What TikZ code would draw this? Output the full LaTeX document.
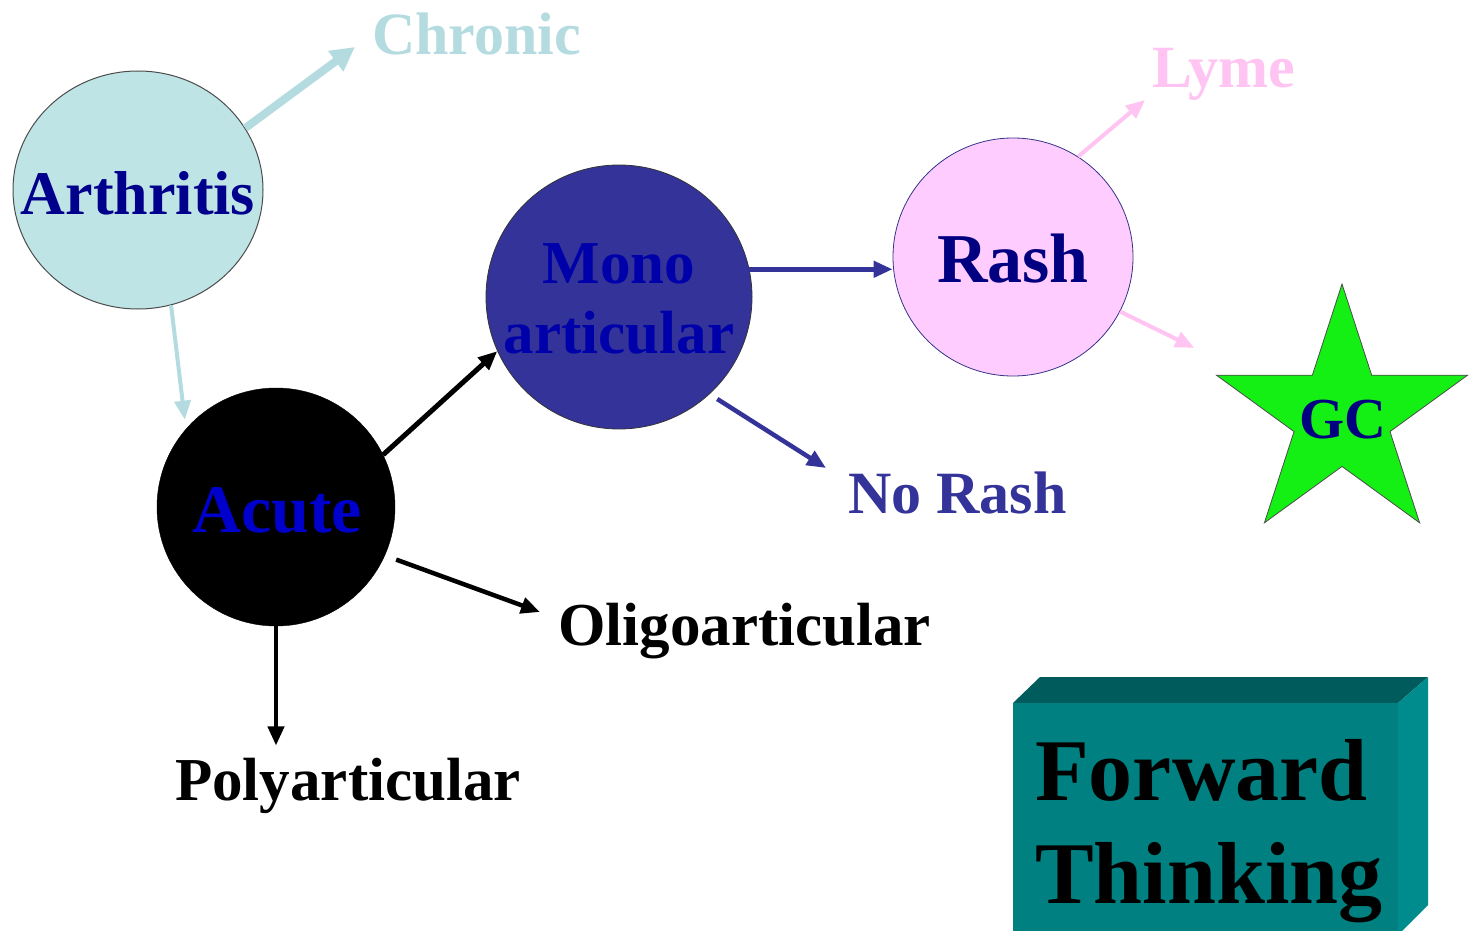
\documentclass[tikz,border=0pt]{standalone}
\usepackage{fontspec}
\setmainfont{Liberation Serif}
\usetikzlibrary{shapes.geometric,arrows.meta,calc}
\definecolor{arthfill}{RGB}{190,228,230}
\definecolor{chroniccol}{RGB}{180,220,224}
\definecolor{arthtext}{RGB}{0,0,140}
\definecolor{monofill}{RGB}{51,51,153}
\definecolor{monotext}{RGB}{0,0,170}
\definecolor{acutetext}{RGB}{0,0,205}
\definecolor{rashfill}{RGB}{255,204,255}
\definecolor{rashtext}{RGB}{0,0,128}
\definecolor{pinkcol}{RGB}{255,196,242}
\definecolor{stargreen}{RGB}{20,240,20}
\definecolor{tealfront}{RGB}{0,128,128}
\definecolor{tealtop}{RGB}{0,92,92}
\definecolor{tealright}{RGB}{0,140,140}
\tikzset{
  blob/.style={ellipse, inner sep=0pt},
  txt/.style={inner sep=0pt, font=\bfseries\fontsize{61pt}{70pt}\selectfont},
  arr/.style={line width=4.5pt, -{Triangle[length=19pt,width=16pt]}},
  bigarr/.style={line width=8pt, -{Triangle[length=24pt,width=24pt]}},
}
\begin{document}
\begin{tikzpicture}[x=1pt,y=-1pt]
\useasboundingbox (0,0) rectangle (1472,931);
\fill[white] (0,0) rectangle (1472,931);

% circles
\node[blob, minimum width=250pt, minimum height=238pt, fill=arthfill, draw=black!70, line width=1pt] (arth) at (138,190) {};
\node[txt, text=arthtext, font=\bfseries\fontsize{62pt}{70pt}\selectfont] (arthlbl) at (138,193) {Arthritis};

\node[blob, minimum width=238pt, minimum height=238pt, fill=black, draw=black] (acute) at (276,507) {};
\node[txt, text=acutetext, font=\bfseries\fontsize{68pt}{70pt}\selectfont] (acutelbl) at (277,510) {Acute};

\node[blob, minimum width=266pt, minimum height=264pt, fill=monofill, draw=black!80, line width=0.8pt] (mono) at (619,297) {};
\node[txt, text=monotext, align=center] (monolbl) at (619,299) {Mono\\articular};

\node[blob, minimum width=240pt, minimum height=238pt, fill=rashfill, draw=black!45!blue!60!gray, line width=0.8pt] (rash) at (1013,257) {};
\node[txt, text=rashtext, font=\bfseries\fontsize{70pt}{70pt}\selectfont] (rashlbl) at (1013,259) {Rash};

\node[star, star points=5, star point ratio=2.618, minimum size=264pt, inner sep=0pt, fill=stargreen, draw=black!70, line width=0.8pt] (star) at (1342,416) {};
\node[txt, text=rashtext, font=\bfseries\fontsize{58pt}{60pt}\selectfont] (gclbl) at (1343,420) {GC};

% text nodes
\node[txt, text=chroniccol, anchor=base west, font=\bfseries\fontsize{60pt}{60pt}\selectfont] (chronic) at (372,55) {Chronic};
\node[txt, text=pinkcol, anchor=base west, font=\bfseries\fontsize{60pt}{60pt}\selectfont] (lyme) at (1152,88) {Lyme};
\node[txt, text=monofill, anchor=base west, font=\bfseries\fontsize{60pt}{60pt}\selectfont] (norash) at (848,513) {No Rash};
\node[txt, anchor=base west] (oligo) at (558,645) {Oligoarticular};
\node[txt, anchor=base west] (poly) at (175,800) {Polyarticular};

% connectors
\draw[bigarr, chroniccol] (arth.30) -- ($(chronic.base west)+(-17,-8)$);
\draw[arr, chroniccol, line width=4pt] (arth.-74) -- ($(acute.137)+(-4,-6)$);
\draw[arr, black, line width=5pt] (acute.26) -- (mono.204);
\draw[arr, black, shorten <=12pt] (acute.-24) -- ($(oligo.base west)+(-18,-33)$);
\draw[arr, black, line width=4pt, shorten >=12pt] (acute.south) -- (acute.south |- poly.north);
\draw[arr, monofill] (mono.12) -- (mono.12 -| rash.west);
\draw[arr, monofill, shorten <=9pt] (mono.-47) -- ($(norash.base west)+(-22,-45)$);
\draw[arr, pinkcol, line width=4pt] (rash.57) -- ($(lyme.base west)+(-7,12)$);
\draw[arr, pinkcol, line width=4pt] (rash.-27) -- ($(star.outer point 2)+(-21,-27)$);

% forward thinking box
\fill[tealtop] (1013,703) -- (1040,677) -- (1428,677) -- (1398,703) -- cycle;
\fill[tealright] (1398,703) -- (1428,677) -- (1428,905) -- (1398,935) -- cycle;
\fill[tealfront] (1013,703) rectangle (1398,940);
\node[txt, anchor=base west, align=left, font=\bfseries\fontsize{88pt}{103pt}\selectfont] (ft) at (1035,903) {Forward\\Thinking};
\end{tikzpicture}
\end{document}
